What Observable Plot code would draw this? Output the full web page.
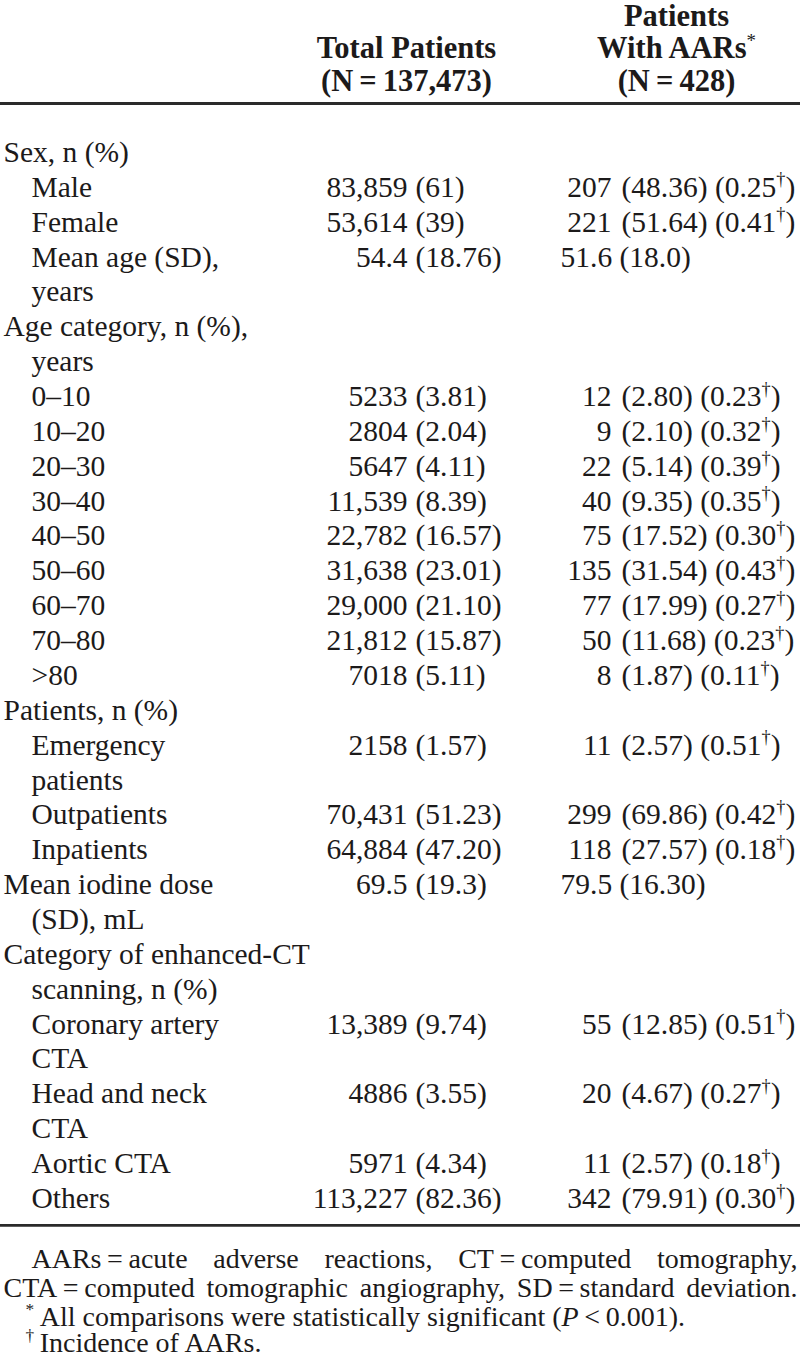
<!DOCTYPE html>
<html>
<head>
<meta charset="utf-8">
<script src="https://cdn.jsdelivr.net/npm/d3@7"></script>
<script src="https://cdn.jsdelivr.net/npm/@observablehq/plot@0.6"></script>
<style>
  html, body { margin: 0; padding: 0; background: #fff; }
  #chart svg { display: block; }
</style>
</head>
<body>
<div id="chart"></div>
<script>
// ---------------- DATA ----------------
const headerCol2 = ["Total Patients", "(N\u2009=\u2009137,473)"];
const headerCol3 = ["Patients", "With AARs*", "(N\u2009=\u2009428)"];

const rowLabels = ["Sex, n (%)", "Male", "Female", "Mean age (SD),", "years",
  "Age category, n (%),", "years", "0\u201310", "10\u201320", "20\u201330", "30\u201340",
  "40\u201350", "50\u201360", "60\u201370", "70\u201380", ">80", "Patients, n (%)",
  "Emergency", "patients", "Outpatients", "Inpatients", "Mean iodine dose",
  "(SD), mL", "Category of enhanced-CT", "scanning, n (%)", "Coronary artery",
  "CTA", "Head and neck", "CTA", "Aortic CTA", "Others"];
const rowIndent = [0,1,1,1,1, 0,1,1,1,1,1, 1,1,1,1,1,0, 1,1,1,1,0, 1,0,1,1, 1,1,1,1,1];

const totalN = ["", "83,859", "53,614", "54.4", "", "", "", "5233", "2804", "5647", "11,539",
  "22,782", "31,638", "29,000", "21,812", "7018", "", "2158", "", "70,431", "64,884", "69.5",
  "", "", "", "13,389", "", "4886", "", "5971", "113,227"];
const totalPct = ["", "(61)", "(39)", "(18.76)", "", "", "", "(3.81)", "(2.04)", "(4.11)", "(8.39)",
  "(16.57)", "(23.01)", "(21.10)", "(15.87)", "(5.11)", "", "(1.57)", "", "(51.23)", "(47.20)", "(19.3)",
  "", "", "", "(9.74)", "", "(3.55)", "", "(4.34)", "(82.36)"];
const aarN = ["", "207", "221", "51.6", "", "", "", "12", "9", "22", "40",
  "75", "135", "77", "50", "8", "", "11", "", "299", "118", "79.5",
  "", "", "", "55", "", "20", "", "11", "342"];
const aarPct = ["", "(48.36)", "(51.64)", "(18.0)", "", "", "", "(2.80)", "(2.10)", "(5.14)", "(9.35)",
  "(17.52)", "(31.54)", "(17.99)", "(11.68)", "(1.87)", "", "(2.57)", "", "(69.86)", "(27.57)", "(16.30)",
  "", "", "", "(12.85)", "", "(4.67)", "", "(2.57)", "(79.91)"];
const incidence = ["", "0.25", "0.41", "", "", "", "", "0.23", "0.32", "0.39", "0.35",
  "0.30", "0.43", "0.27", "0.23", "0.11", "", "0.51", "", "0.42", "0.18", "",
  "", "", "", "0.51", "", "0.27", "", "0.18", "0.30"];

const footnotes = [
  "AARs\u2009=\u2009acute adverse reactions, CT\u2009=\u2009computed tomography,",
  "CTA\u2009=\u2009computed tomographic angiography, SD\u2009=\u2009standard deviation.",
  "*\u2009All comparisons were statistically significant (P\u2009<\u20090.001).",
  "\u2020\u2009Incidence of AARs."
];

// ---------------- LAYOUT ----------------
const W = 800, H = 1359;
const FONT = "Liberation Serif, Times New Roman, serif";
const FS = 29.5;
const FS_HEAD = 30.5;
const FS_FOOT = 28;
const INK = "#1c1a1a";
const X = {left: 3, indent: 31, c2num: 407, c2rest: 415, c3num: 611, c3rest: 621, c3mean: 560,
           h2: 406, h3: 676, foot1: 31, foot2: 3, foot3: 25};
// y positions are expressed in "body line" units; the y scale maps them to pixels
const Y = {h0: -3.9, h1: -2.98, h2: -2.04, topRule: -1.405, bottomRule: 30.77,
           f: [31.75, 32.58, 33.4, 34.15]};

const rows = rowLabels.map((label, i) => ({
  line: i, label, indent: rowIndent[i],
  tN: totalN[i], tP: totalPct[i], aN: aarN[i], aP: aarPct[i], inc: incidence[i]
}));

const header = [
  {col: "h2", line: Y.h1, text: headerCol2[0]},
  {col: "h2", line: Y.h2, text: headerCol2[1]},
  {col: "h3", line: Y.h0, text: headerCol3[0]},
  {col: "h3", line: Y.h1, text: headerCol3[1]},
  {col: "h3", line: Y.h2, text: headerCol3[2]}
];
const foot = footnotes.map((text, i) => ({line: Y.f[i], text, x: i === 0 ? X.foot1 : i === 1 ? X.foot2 : X.foot3}));

const common = {fontFamily: FONT, fontSize: FS, fill: INK, lineAnchor: "middle"};

const plot = Plot.plot({
  width: W, height: H,
  marginTop: 0, marginBottom: 0, marginLeft: 0, marginRight: 0,
  x: {type: "linear", domain: [0, W], range: [0, W], axis: null},
  y: {type: "linear", domain: [0, 30], range: [152, 1198], axis: null},
  style: {background: "#fff", color: INK},
  marks: [
    Plot.ruleY([Y.topRule, Y.bottomRule], {stroke: "#2a2a2a", strokeWidth: 2.8}),
    // header
    Plot.text(header, {...common, fontSize: FS_HEAD, x: d => X[d.col], y: "line", text: "text",
      textAnchor: "middle", fontWeight: "bold"}),
    // row labels
    Plot.text(rows, {...common, x: d => d.indent ? X.indent : X.left, y: "line", text: "label",
      textAnchor: "start"}),
    // total patients column
    Plot.text(rows.filter(d => d.tN), {...common, x: () => X.c2num, y: "line", text: "tN", textAnchor: "end"}),
    Plot.text(rows.filter(d => d.tP), {...common, x: () => X.c2rest, y: "line", text: "tP", textAnchor: "start"}),
    // AAR column, counts with incidence
    Plot.text(rows.filter(d => d.inc), {...common, x: () => X.c3num, y: "line", text: "aN", textAnchor: "end"}),
    Plot.text(rows.filter(d => d.inc), {...common, x: () => X.c3rest, y: "line",
      text: d => `${d.aP} (${d.inc}\u2020)`, textAnchor: "start"}),
    // AAR column, means
    Plot.text(rows.filter(d => d.aN && !d.inc), {...common, x: () => X.c3mean, y: "line",
      text: d => `${d.aN} ${d.aP}`, textAnchor: "start"}),
    // footnotes
    Plot.text(foot, {...common, fontSize: FS_FOOT, x: "x", y: "line", text: "text", textAnchor: "start"})
  ]
});

document.getElementById("chart").appendChild(plot);

// ---------------- superscripts / italics / justification ----------------
const SUP = /[\u2020*]/;
plot.querySelectorAll("text").forEach(t => {
  const s = t.textContent;
  if (!SUP.test(s) && !s.includes("(P\u2009")) return;
  while (t.firstChild) t.removeChild(t.firstChild);
  const ns = "http://www.w3.org/2000/svg";
  const parts = s.split(/([\u2020*]|\(P)/).filter(p => p !== "");
  let raised = false;
  parts.forEach(p => {
    const ts = document.createElementNS(ns, "tspan");
    if (p === "\u2020" || p === "*") {
      ts.textContent = p;
      ts.setAttribute("font-size", "62%");
      ts.setAttribute("dy", "-0.62em");
      if (p === "*") ts.setAttribute("font-weight", "normal");
      raised = true;
    } else if (p === "(P") {
      const a = document.createElementNS(ns, "tspan");
      a.textContent = "(";
      if (raised) { a.setAttribute("dy", "0.385em"); raised = false; }
      t.appendChild(a);
      ts.textContent = "P";
      ts.setAttribute("font-style", "italic");
    } else {
      ts.textContent = p;
      if (raised) { ts.setAttribute("dy", "0.385em"); raised = false; }
    }
    t.appendChild(ts);
  });
});

// justify the first two footnote lines (word spacing)
plot.querySelectorAll("text").forEach(t => {
  const s = t.textContent;
  let target = null;
  if (s === footnotes[0]) target = 797 - X.foot1;
  if (s === footnotes[1]) target = 797 - X.foot2;
  if (target == null) return;
  const natural = t.getComputedTextLength();
  const spaces = (s.match(/ /g) || []).length;
  if (spaces > 0) t.style.wordSpacing = Math.max(-2, (target - natural) / spaces) + "px";
});
</script>
</body>
</html>
